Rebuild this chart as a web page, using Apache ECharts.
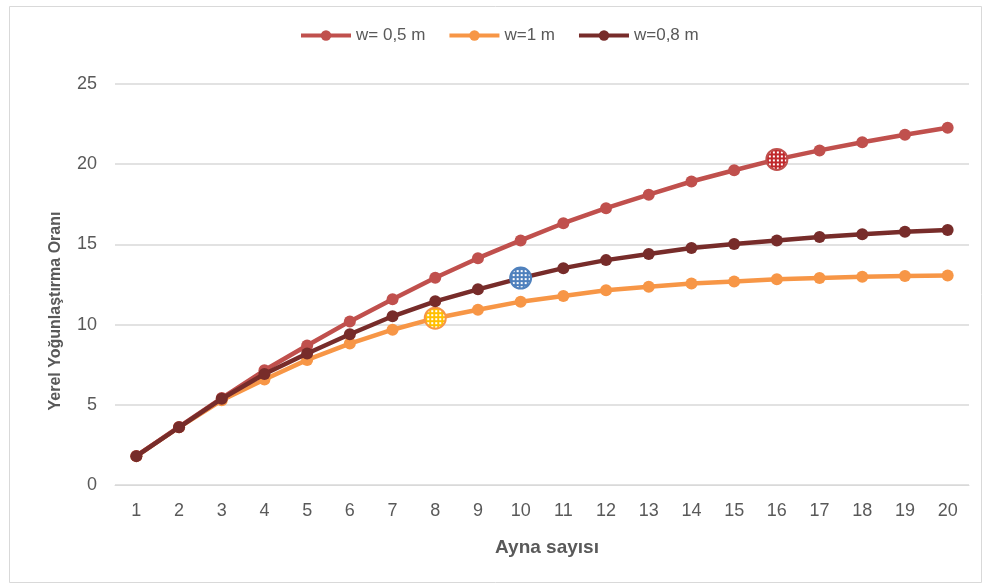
<!DOCTYPE html>
<html>
<head>
<meta charset="utf-8">
<script src="https://cdn.jsdelivr.net/npm/echarts@6/dist/echarts.min.js"></script>
<style>
html,body{margin:0;padding:0;background:#fff;}
#chart{width:982px;height:584px;}
</style>
</head>
<body>
<div id="chart"></div>
<script>
// Mirror counts on the horizontal axis
const categories = ['1','2','3','4','5','6','7','8','9','10','11','12','13','14','15','16','17','18','19','20'];

// Local concentration ratio per mirror width
const w05 = [1.81, 3.62, 5.42, 7.15, 8.7, 10.2, 11.58, 12.92, 14.14, 15.25, 16.32, 17.26, 18.1, 18.92, 19.62, 20.3, 20.86, 21.37, 21.84, 22.27];
const w1  = [1.8, 3.6, 5.28, 6.58, 7.8, 8.82, 9.68, 10.4, 10.93, 11.43, 11.78, 12.14, 12.36, 12.56, 12.68, 12.82, 12.9, 12.98, 13.03, 13.06];
const w08 = [1.8, 3.6, 5.38, 6.92, 8.2, 9.4, 10.52, 11.45, 12.2, 12.9, 13.52, 14.02, 14.4, 14.78, 15.02, 15.25, 15.46, 15.64, 15.79, 15.9];

const seriesNames = ['w= 0,5 m', 'w=1 m', 'w=0,8 m'];
const xTitle = 'Ayna sayısı';
const yTitle = 'Yerel Yoğunlaştırma Oranı';

const MARK_SIZE = 21;

// Dotted fill used on the emphasised points; the symbol path is drawn in a
// unit box scaled by size/2, so the tile is scaled back to screen pixels.
function dotPattern(bg, dot) {
  const c = document.createElement('canvas');
  c.width = 4; c.height = 4;
  const g = c.getContext('2d');
  g.fillStyle = bg; g.fillRect(0, 0, 4, 4);
  g.fillStyle = dot; g.fillRect(0, 0, 2, 2);
  const s = 2 / MARK_SIZE;
  return { image: c, repeat: 'repeat', scaleX: s, scaleY: s };
}

function withMark(values, idx, fill, border) {
  return values.map((v, i) => i === idx
    ? { value: v, symbolSize: MARK_SIZE, itemStyle: { color: fill, borderColor: border, borderWidth: 2 } }
    : v);
}

const chart = echarts.init(document.getElementById('chart'));
const font = '"Liberation Sans", Arial, sans-serif';
const axisText = '#595959';

chart.setOption({
  animation: false,
  backgroundColor: '#fff',
  textStyle: { fontFamily: font },
  graphic: [
    {
      type: 'rect', left: 7, top: 4,
      shape: { width: 972, height: 576 },
      style: { fill: 'none', stroke: '#D9D9D9', lineWidth: 1 }
    },
    {
      type: 'text', x: 547, y: 548,
      style: { text: xTitle, fill: axisText, font: 'bold 19px ' + font, align: 'center', verticalAlign: 'middle' }
    },
    {
      type: 'text', x: 56, y: 311, rotation: Math.PI / 2,
      style: { text: yTitle, fill: axisText, font: 'bold 16px ' + font, align: 'center', verticalAlign: 'middle' }
    }
  ],
  legend: {
    top: 22, left: 294,
    itemWidth: 50, itemHeight: 13, itemGap: 22,
    textStyle: { color: axisText, fontSize: 17, fontFamily: font },
    lineStyle: { width: 4 },
    data: seriesNames
  },
  grid: { left: 115, right: 13, top: 84, bottom: 99, containLabel: false },
  xAxis: {
    type: 'category', data: categories, boundaryGap: true,
    axisLine: { lineStyle: { color: '#D9D9D9', width: 1 } },
    axisTick: { show: false },
    axisLabel: { color: axisText, fontSize: 18, margin: 17 }
  },
  yAxis: {
    type: 'value', min: 0, max: 25, interval: 5,
    axisLine: { show: false },
    axisTick: { show: false },
    axisLabel: { color: axisText, fontSize: 18, margin: 18 },
    splitLine: { lineStyle: { color: '#D9D9D9', width: 1.5 } }
  },
  series: [
    {
      name: seriesNames[0], type: 'line', z: 3,
      data: withMark(w05, 15, dotPattern('#C0282B', '#ffffff'), '#C0504D'),
      symbol: 'circle', symbolSize: 12,
      lineStyle: { color: '#C0504D', width: 4.5 },
      itemStyle: { color: '#C0504D' }
    },
    {
      name: seriesNames[1], type: 'line', z: 2,
      data: withMark(w1, 7, dotPattern('#FFC000', '#ffffff'), '#F79646'),
      symbol: 'circle', symbolSize: 12,
      lineStyle: { color: '#F79646', width: 4.5 },
      itemStyle: { color: '#F79646' }
    },
    {
      name: seriesNames[2], type: 'line', z: 4,
      data: withMark(w08, 9, dotPattern('#4F81BD', '#ffffff'), '#4F81BD'),
      symbol: 'circle', symbolSize: 12,
      lineStyle: { color: '#772C2A', width: 4.5 },
      itemStyle: { color: '#772C2A' }
    }
  ]
});
</script>
</body>
</html>
